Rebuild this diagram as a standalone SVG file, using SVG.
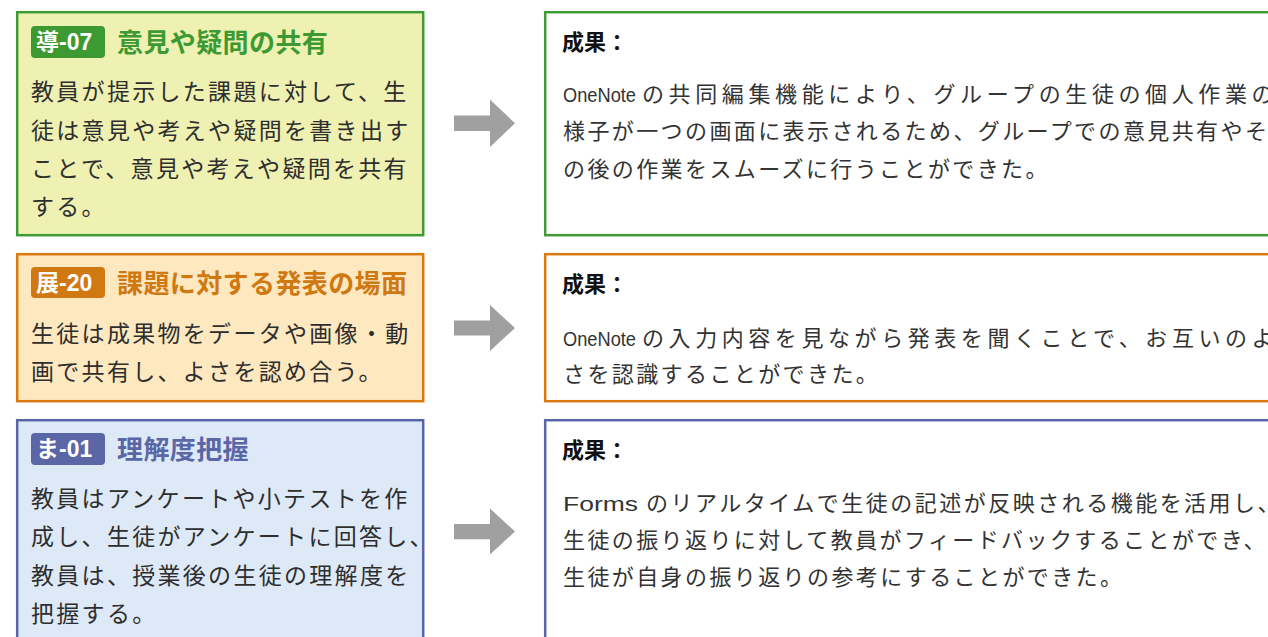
<svg xmlns="http://www.w3.org/2000/svg" width="1268" height="637" viewBox="0 0 1268 637">
<style>
.body{font-family:"Noto Sans CJK JP","Noto Sans",sans-serif;font-size:23px;letter-spacing:2.3px;fill:#2e2e2e}
.res{font-family:"Noto Sans CJK JP","Noto Sans",sans-serif;font-size:22px;letter-spacing:2.4px;fill:#333333}
.lat{font-family:"Liberation Sans","Noto Sans",sans-serif;font-size:20px;letter-spacing:0px}
.head{font-family:"Noto Sans CJK JP",sans-serif;font-size:22px;font-weight:700;fill:#111111}
.badge{font-family:"Liberation Sans","Noto Sans CJK JP",sans-serif;font-size:23px;font-weight:700;fill:#ffffff}
.title{font-family:"Noto Sans CJK JP",sans-serif;font-size:26px;font-weight:700;letter-spacing:0.4px}
.arrow{fill:#a0a0a0}
</style>
<rect width="1268" height="637" fill="#ffffff"/>

<g id="node-d07">
<rect x="17.2" y="12.2" width="406" height="223" fill="#eef1b2" stroke="#3f9b35" stroke-width="2.5"/>
<rect x="31" y="26" width="74" height="32" rx="4" fill="#3d9a32"/>
<text class="badge" x="36" y="50">導-07</text>
<text class="title" x="117" y="52" fill="#3d9a32">意見や疑問の共有</text>
<text class="body" x="31" y="100">教員が提示した課題に対して、生</text>
<text class="body" x="31" y="139">徒は意見や考えや疑問を書き出す</text>
<text class="body" x="31" y="177">ことで、意見や考えや疑問を共有</text>
<text class="body" x="31" y="215">する。</text>
</g>

<g id="node-t20">
<rect x="17.2" y="254.2" width="406" height="147" fill="#fde8c0" stroke="#d9790f" stroke-width="2.5"/>
<rect x="31" y="267" width="74" height="31" rx="4" fill="#d07812"/>
<text class="badge" x="36" y="291">展-20</text>
<text class="title" x="117" y="293" fill="#d07812">課題に対する発表の場面</text>
<text class="body" x="31" y="342">生徒は成果物をデータや画像・動</text>
<text class="body" x="31" y="380">画で共有し、よさを認め合う。</text>
</g>

<g id="node-m01">
<rect x="17.2" y="420.2" width="406" height="230" fill="#dde9f7" stroke="#5865a6" stroke-width="2.5"/>
<rect x="31" y="433" width="74" height="32" rx="4" fill="#5a66a5"/>
<text class="badge" x="36" y="457">ま-01</text>
<text class="title" x="117" y="459" fill="#5a66a5">理解度把握</text>
<text class="body" x="31" y="507">教員はアンケートや小テストを作</text>
<text class="body" x="31" y="545">成し、生徒がアンケートに回答し、</text>
<text class="body" x="31" y="584">教員は、授業後の生徒の理解度を</text>
<text class="body" x="31" y="622">把握する。</text>
</g>

<g id="node-r1">
<rect x="545.2" y="12.2" width="740" height="223" fill="#ffffff" stroke="#3f9b35" stroke-width="2.5"/>
<text class="head" x="562" y="50">成果：</text>
<text class="res" x="563" y="102"><tspan class="lat" textLength="73" lengthAdjust="spacingAndGlyphs">OneNote</tspan><tspan x="642" textLength="634" lengthAdjust="spacing">の共同編集機能により、グループの生徒の個人作業の</tspan></text>
<text class="res" x="563" y="139">様子が一つの画面に表示されるため、グループでの意見共有やそ</text>
<text class="res" x="563" y="177">の後の作業をスムーズに行うことができた。</text>
</g>

<g id="node-r2">
<rect x="545.2" y="254.2" width="740" height="147" fill="#ffffff" stroke="#d9790f" stroke-width="2.5"/>
<text class="head" x="562" y="292">成果：</text>
<text class="res" x="563" y="346"><tspan class="lat" textLength="73" lengthAdjust="spacingAndGlyphs">OneNote</tspan><tspan x="642" textLength="634" lengthAdjust="spacing">の入力内容を見ながら発表を聞くことで、お互いのよ</tspan></text>
<text class="res" x="563" y="382">さを認識することができた。</text>
</g>

<g id="node-r3">
<rect x="545.2" y="420.2" width="740" height="230" fill="#ffffff" stroke="#5865a6" stroke-width="2.5"/>
<text class="head" x="562" y="458">成果：</text>
<text class="res" x="563" y="511"><tspan class="lat" textLength="75" lengthAdjust="spacingAndGlyphs">Forms</tspan><tspan x="646" textLength="636" lengthAdjust="spacing">のリアルタイムで生徒の記述が反映される機能を活用し、</tspan></text>
<text class="res" x="563" y="548">生徒の振り返りに対して教員がフィードバックすることができ、</text>
<text class="res" x="563" y="585">生徒が自身の振り返りの参考にすることができた。</text>
</g>

<g id="connectors">
<polygon class="arrow" points="454,115.5 490,115.5 490,99.5 515,123.3 490,147 490,131 454,131"/>
<polygon class="arrow" points="454,320.5 490,320.5 490,305 515,328 490,351 490,335.5 454,335.5"/>
<polygon class="arrow" points="454,524 490,524 490,508.5 515,531.5 490,554.5 490,539.3 454,539.3"/>
</g>
</svg>
